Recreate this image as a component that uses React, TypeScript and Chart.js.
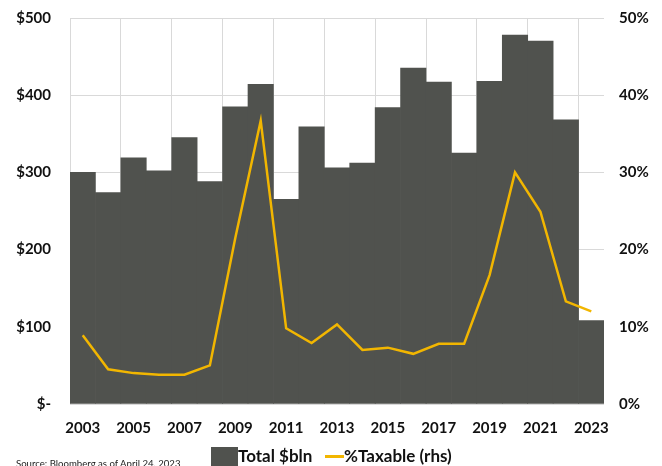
import React, { useEffect, useRef } from "react";
import { Chart, registerables } from "chart.js";

Chart.register(...registerables);

const years = [
  "2003", "2004", "2005", "2006", "2007", "2008", "2009", "2010", "2011", "2012",
  "2013", "2014", "2015", "2016", "2017", "2018", "2019", "2020", "2021", "2022", "2023",
];
const totalBln = [
  300, 274, 319, 302, 345, 288, 385, 414, 265, 359,
  306, 312, 384, 435, 417, 325, 418, 478, 470, 368, 108,
];
const pctTaxable = [
  8.9, 4.5, 4.0, 3.8, 3.8, 5.0, 21.5, 36.7, 9.8, 7.9,
  10.3, 7.0, 7.3, 6.5, 7.8, 7.8, 16.7, 30.0, 24.9, 13.3, 12.0,
];
const leftTicks = [0, 100, 200, 300, 400, 500];
const rightTicks = [0, 10, 20, 30, 40, 50];

const BAR = "#50524e";
const GOLD = "#f2b600";
const FONT = "Lato, 'Open Sans', sans-serif";

export default function App() {
  const ref = useRef<HTMLCanvasElement | null>(null);
  useEffect(() => {
    if (!ref.current) return;
    const tickFont = { family: FONT, size: 15, weight: "bold" as const };
    const chart = new Chart(ref.current, {
      type: "bar",
      data: {
        labels: years,
        datasets: [
          {
            type: "line",
            label: "%Taxable (rhs)",
            data: pctTaxable,
            borderColor: GOLD,
            backgroundColor: GOLD,
            borderWidth: 2.5,
            pointRadius: 0,
            tension: 0,
            yAxisID: "y1",
            order: 0,
          },
          {
            type: "bar",
            label: "Total $bln",
            data: totalBln,
            backgroundColor: BAR,
            barPercentage: 1,
            categoryPercentage: 1,
            yAxisID: "y",
            order: 1,
          },
        ],
      },
      options: {
        animation: false,
        responsive: false,
        maintainAspectRatio: false,
        layout: { padding: { left: 0, right: 0, top: 18, bottom: 26 } },
        plugins: { legend: { display: false }, tooltip: { enabled: false } },
        scales: {
          x: {
            grid: {
              offset: true,
              drawTicks: false,
              color: (ctx: any) =>
                typeof ctx.index === "number" && ctx.index % 2 === 0 ? "#d9d9d9" : "rgba(0,0,0,0)",
            },
            border: { display: false },
            ticks: {
              autoSkip: false,
              maxRotation: 0,
              padding: 15,
              color: "#111",
              font: tickFont,
              callback: (_v: any, i: number) => (i % 2 === 0 ? years[i] : ""),
            },
            afterFit: (s: any) => {
              s.height = 36;
              s.paddingLeft = 0;
              s.paddingRight = 0;
            },
          },
          y: {
            position: "left",
            min: 0,
            max: 500,
            afterBuildTicks: (s: any) => {
              s.ticks = leftTicks.map((v) => ({ value: v }));
            },
            grid: { drawTicks: false, color: "#d9d9d9" },
            border: { display: false },
            ticks: {
              padding: 19,
              color: "#111",
              font: tickFont,
              callback: (v: any) => (v === 0 ? "$-" : "$" + v),
            },
            afterFit: (s: any) => {
              s.width = 70;
              s.paddingTop = 0;
              s.paddingBottom = 0;
            },
          },
          y1: {
            position: "right",
            min: 0,
            max: 50,
            afterBuildTicks: (s: any) => {
              s.ticks = rightTicks.map((v) => ({ value: v }));
            },
            grid: { display: false, drawTicks: false },
            border: { display: false },
            ticks: {
              padding: 15,
              color: "#111",
              font: tickFont,
              callback: (v: any) => v + "%",
            },
            afterFit: (s: any) => {
              s.width = 58;
              s.paddingTop = 0;
              s.paddingBottom = 0;
            },
          },
        },
      },
    });
    return () => chart.destroy();
  }, []);

  return (
    <div
      style={{
        position: "absolute",
        left: 0,
        top: 0,
        width: 662,
        height: 466,
        overflow: "hidden",
        background: "#fff",
        fontFamily: FONT,
      }}
    >
      <canvas ref={ref} width={662} height={466} style={{ position: "absolute", left: 0, top: 0 }} />
      <div
        style={{
          position: "absolute",
          left: 16,
          top: 459,
          fontSize: 9.6,
          lineHeight: 1,
          color: "#222",
          whiteSpace: "nowrap",
          fontFamily: FONT,
        }}
      >
        Source: Bloomberg as of April 24, 2023
      </div>
      <div style={{ position: "absolute", left: 211, top: 447, width: 27, height: 19, background: BAR }} />
      <div
        style={{
          position: "absolute",
          left: 238,
          top: 446,
          fontSize: 17,
          fontWeight: "bold",
          lineHeight: "20px",
          color: "#111",
          whiteSpace: "nowrap",
        }}
      >
        Total $bln
      </div>
      <div style={{ position: "absolute", left: 325, top: 455, width: 19, height: 2.5, background: GOLD }} />
      <div
        style={{
          position: "absolute",
          left: 344,
          top: 446,
          fontSize: 17,
          fontWeight: "bold",
          lineHeight: "20px",
          color: "#111",
          whiteSpace: "nowrap",
        }}
      >
        %Taxable (rhs)
      </div>
    </div>
  );
}
